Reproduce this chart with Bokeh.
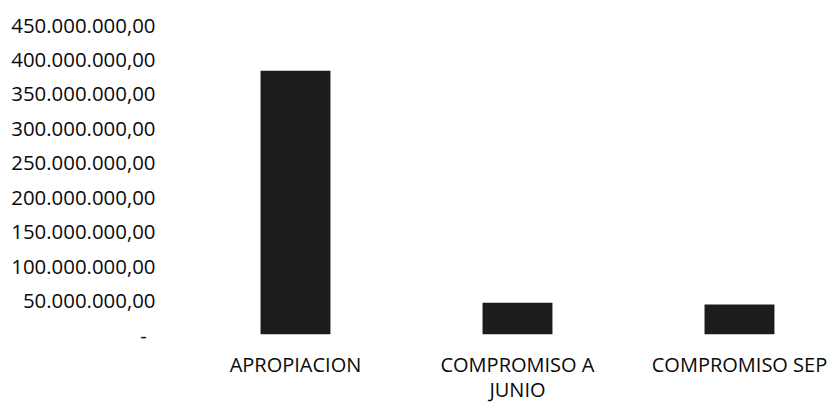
from bokeh.plotting import figure
from bokeh.models import Range1d, FixedTicker, ColumnDataSource
from bokeh.embed import file_html
from bokeh.resources import INLINE

# data
categories = ["APROPIACION", "COMPROMISO A\nJUNIO", "COMPROMISO SEP"]
values = [383_000_000, 46_000_000, 43_500_000]
y_ticks = [0, 50_000_000, 100_000_000, 150_000_000, 200_000_000,
           250_000_000, 300_000_000, 350_000_000, 400_000_000, 450_000_000]
y_tick_labels = ["-\u00a0\u2009", "50.000.000,00", "100.000.000,00", "150.000.000,00",
                 "200.000.000,00", "250.000.000,00", "300.000.000,00",
                 "350.000.000,00", "400.000.000,00", "450.000.000,00"]

idx = list(range(len(categories)))
src = ColumnDataSource(dict(x=idx, top=values, cat=categories))

p = figure(frame_width=644, frame_height=310, output_backend="svg", toolbar_location=None,
           x_range=Range1d(-0.5, 2.401), y_range=Range1d(0, 450_000_000),
           min_border_left=184, min_border_right=0, min_border_top=24,
           min_border_bottom=60)

p.vbar(x="x", top="top", bottom=0, width=0.315, source=src,
       fill_color="#1c1c1c", line_color=None)

p.xgrid.visible = False
p.ygrid.visible = False
p.outline_line_color = None
p.background_fill_color = "white"
p.border_fill_color = "white"

xa = p.xaxis[0]
xa.ticker = FixedTicker(ticks=idx)
xa.major_label_overrides = {i: c for i, c in zip(idx, categories)}
xa.axis_line_color = None
xa.major_tick_line_color = None
xa.minor_tick_line_color = None
xa.major_label_text_font = "Open Sans"
xa.major_label_text_font_size = "20px"
xa.major_label_text_color = "#0a0a0a"
xa.major_label_standoff = 10
xa.major_label_text_line_height = 0.95

ya = p.yaxis[0]
ya.ticker = FixedTicker(ticks=y_ticks)
ya.major_label_overrides = {t: l for t, l in zip(y_ticks, y_tick_labels)}
ya.axis_line_color = None
ya.major_tick_line_color = None
ya.minor_tick_line_color = None
ya.major_label_text_font = "Open Sans"
ya.major_label_text_font_size = "20.4px"
ya.major_label_text_color = "#0a0a0a"
ya.major_label_standoff = 23

open("out.html", "w").write(file_html(p, INLINE))
